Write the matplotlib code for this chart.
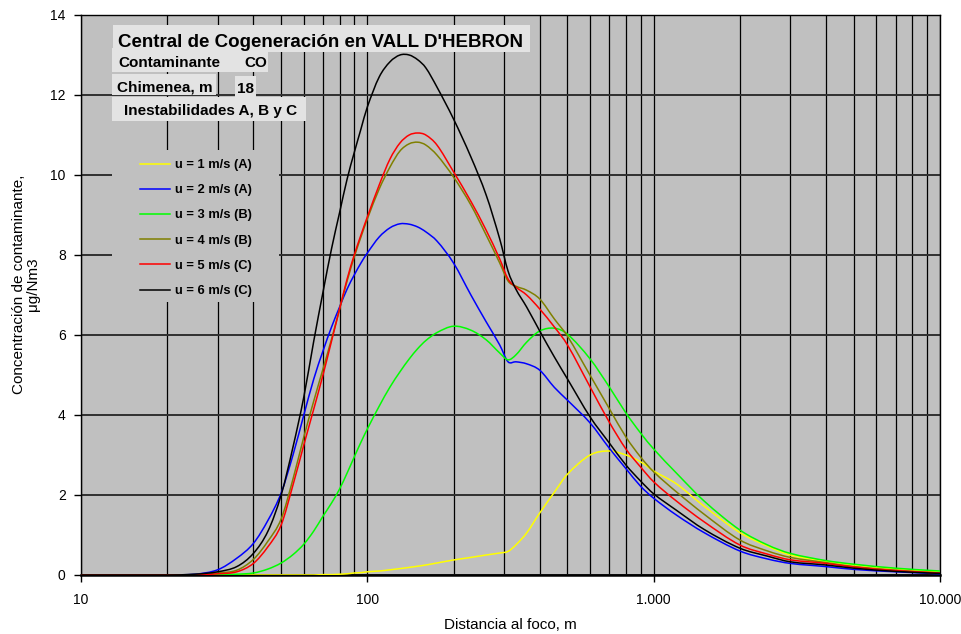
import math
import matplotlib
matplotlib.use("Agg")
import matplotlib.pyplot as plt
from matplotlib.patches import Rectangle, PathPatch
from matplotlib.path import Path
from matplotlib.lines import Line2D
from matplotlib.ticker import FixedLocator, FixedFormatter, LogLocator, NullFormatter

# ---------------- data ----------------
dist = [10, 15, 20, 25, 30, 35, 40, 45, 50, 55, 60, 65, 70, 75, 80, 85, 90, 95, 100,
        110, 120, 130, 140, 150, 160, 175, 200, 230, 260, 290, 310, 330, 360, 400,
        450, 500, 600, 700, 800, 900, 1000, 1200, 1500, 2000, 2500, 3000, 4000,
        5000, 7000, 10000]

u1_A = [0, 0, 0, 0, 0, 0, 0, 0, 0, 0, 0, 0, 0.01, 0.01, 0.02, 0.03, 0.05, 0.06, 0.08,
        0.10, 0.13, 0.16, 0.19, 0.22, 0.25, 0.30, 0.375, 0.44, 0.50, 0.55, 0.59, 0.75,
        1.05, 1.55, 2.07, 2.52, 3.0, 3.1, 3.0, 2.83, 2.6, 2.28, 1.72, 1.06, 0.72, 0.50,
        0.34, 0.25, 0.15, 0.07]

u2_A = [0, 0, 0, 0.02, 0.13, 0.42, 0.79, 1.37, 2.05, 3.0, 4.0, 4.9, 5.6, 6.2, 6.7, 7.15,
        7.5, 7.8, 8.05, 8.45, 8.68, 8.78, 8.77, 8.7, 8.58, 8.35, 7.8, 7.0, 6.33, 5.75,
        5.33, 5.33, 5.28, 5.12, 4.69, 4.37, 3.8, 3.17, 2.66, 2.22, 1.92, 1.5, 1.06,
        0.6, 0.4, 0.29, 0.21, 0.14, 0.08, 0.03]

u3_B = [0, 0, 0, 0, 0.01, 0.02, 0.05, 0.15, 0.3, 0.51, 0.77, 1.1, 1.47, 1.8, 2.15,
        2.55, 2.95, 3.32, 3.65, 4.22, 4.7, 5.08, 5.4, 5.66, 5.86, 6.06, 6.22, 6.12, 5.88,
        5.55, 5.38, 5.5, 5.82, 6.1, 6.17, 6.02, 5.4, 4.7, 4.05, 3.55, 3.15, 2.55, 1.85,
        1.125, 0.75, 0.54, 0.36, 0.27, 0.17, 0.10]

u4_B = [0, 0, 0, 0.01, 0.05, 0.12, 0.39, 0.85, 1.4, 2.4, 3.45, 4.35, 5.15, 5.9, 6.65,
        7.35, 7.95, 8.45, 8.9, 9.65, 10.2, 10.6, 10.78, 10.82, 10.75, 10.5, 9.95, 9.25,
        8.5, 7.8, 7.35, 7.22, 7.12, 6.9, 6.4, 5.97, 4.99, 4.16, 3.45, 2.95, 2.58, 2.08,
        1.52, 0.875, 0.6, 0.44, 0.31, 0.21, 0.12, 0.05]

u5_C = [0, 0, 0, 0, 0.03, 0.08, 0.29, 0.71, 1.25, 2.25, 3.25, 4.15, 5.0, 5.85, 6.65,
        7.4, 8.0, 8.5, 8.95, 9.75, 10.4, 10.8, 11.0, 11.05, 11.0, 10.75, 10.08, 9.34,
        8.62, 7.9, 7.4, 7.2, 7.0, 6.65, 6.2, 5.75, 4.7, 3.82, 3.15, 2.7, 2.33, 1.85,
        1.33, 0.75, 0.52, 0.38, 0.29, 0.2, 0.11, 0.05]

u6_C = [0, 0, 0, 0.02, 0.08, 0.21, 0.54, 1.1, 2.0, 3.2, 4.45, 5.85, 7.07, 8.16, 9.06,
        9.9, 10.56, 11.15, 11.7, 12.45, 12.83, 13.0, 13.0, 12.88, 12.68, 12.2, 11.4,
        10.45, 9.5, 8.4, 7.6, 7.15, 6.7, 6.1, 5.45, 4.9, 3.95, 3.3, 2.75, 2.35, 2.03,
        1.62, 1.14, 0.67, 0.47, 0.33, 0.25, 0.17, 0.09, 0.04]

series_labels = ["u = 1 m/s (A)", "u = 2 m/s (A)", "u = 3 m/s (B)",
                 "u = 4 m/s (B)", "u = 5 m/s (C)", "u = 6 m/s (C)"]
series_values = [u1_A, u2_A, u3_B, u4_B, u5_C, u6_C]
series_colors = ["#FFFF00", "#0000FF", "#00FF00", "#808000", "#FF0000", "#000000"]

x_ticks = [10, 100, 1000, 10000]
x_ticklabels = ["10", "100", "1.000", "10.000"]
y_ticks = [0, 2, 4, 6, 8, 10, 12, 14]

title_text = "Central de Cogeneración en VALL D'HEBRON"
info_rows = [("Contaminante", "CO"), ("Chimenea, m", "18")]
info_last = "Inestabilidades A, B y C"

# ---------------- figure ----------------
W, H = 962, 634
FONT = "Liberation Sans"
plt.rcParams["font.family"] = [FONT, "DejaVu Sans"]

fig = plt.figure(figsize=(W / 100, H / 100), dpi=100)
fig.patch.set_facecolor("white")

def fx(px):
    return px / W

def fy(py):
    return 1 - py / H

ax = fig.add_axes([fx(81), fy(575), (940 - 81) / W, (575 - 15) / H])
ax.set_facecolor("#C0C0C0")
ax.set_xscale("log")
ax.set_xlim(10, 10000)
ax.set_ylim(0, 14)

ax.xaxis.set_major_locator(FixedLocator(x_ticks))
ax.xaxis.set_major_formatter(FixedFormatter(x_ticklabels))
ax.xaxis.set_minor_locator(LogLocator(base=10, subs=range(2, 10)))
ax.xaxis.set_minor_formatter(NullFormatter())
ax.yaxis.set_major_locator(FixedLocator(y_ticks))

ax.grid(which="both", axis="x", color="black", linewidth=0.9)
ax.grid(which="major", axis="y", color="#303030", linewidth=1.4)
ax.tick_params(which="minor", length=0)
ax.tick_params(which="major", direction="out", length=5, width=1, colors="black",
               labelsize=10)
ax.tick_params(axis="x", which="major", pad=8)
ax.tick_params(axis="y", which="major", pad=6)
for lab in ax.get_xticklabels() + ax.get_yticklabels():
    lab.set_fontfamily(FONT)
for s in ax.spines.values():
    s.set_color("black")
    s.set_linewidth(1.0)
ax.spines["bottom"].set_linewidth(1.8)


def smooth_path(xs, ys):
    """Smoothed line through the data points (like a spreadsheet 'smoothed line'),
    built from cubic Bezier segments in log-x space and rendered by matplotlib."""
    us = [math.log10(v) for v in xs]
    n = len(us)
    slopes = []
    for i in range(n):
        a = max(i - 1, 0)
        b = min(i + 1, n - 1)
        slopes.append((ys[b] - ys[a]) / (us[b] - us[a]))
    verts = [(xs[0], ys[0])]
    codes = [Path.MOVETO]
    for i in range(n - 1):
        h = us[i + 1] - us[i]
        c1 = (10 ** (us[i] + h / 3), max(ys[i] + slopes[i] * h / 3, 0))
        c2 = (10 ** (us[i + 1] - h / 3), max(ys[i + 1] - slopes[i + 1] * h / 3, 0))
        verts += [c1, c2, (xs[i + 1], ys[i + 1])]
        codes += [Path.CURVE4] * 3
    return Path(verts, codes)


handles = []
for vals, col, lab in zip(series_values, series_colors, series_labels):
    ax.add_patch(PathPatch(smooth_path(dist, vals), facecolor="none", edgecolor=col,
                           linewidth=1.1, zorder=3))
    handles.append(Line2D([], [], color=col, linewidth=1.1))

# legend area (masks the grid like the original)
ax.add_patch(Rectangle((fx(112), fy(302)), fx(279) - fx(112), fy(150) - fy(302),
                       transform=fig.transFigure, facecolor="#C0C0C0",
                       edgecolor="none", zorder=2.6, clip_on=False))
leg = ax.legend(handles=handles, labels=series_labels, loc="upper left",
                bbox_to_anchor=(fx(140), fy(159)), bbox_transform=fig.transFigure,
                frameon=False, borderpad=0, borderaxespad=0,
                handlelength=2.35, handletextpad=0.35, labelspacing=1.02,
                prop=dict(family=FONT, weight="bold", size=9.3))
leg.set_zorder(5)

ax.set_xlabel("Distancia al foco, m", fontsize=11, fontfamily=FONT, labelpad=8)
fig.text(fx(26), fy(284), "Concentración de contaminante,\nμg/Nm3", rotation=90,
         ha="center", va="center", multialignment="center", fontsize=11,
         fontfamily=FONT, linespacing=0.95)

# info boxes
box_col = "#E3E3E3"
def box(x0, y0, x1, y1, z):
    fig.add_artist(Rectangle((fx(x0), fy(y1)), fx(x1) - fx(x0), fy(y0) - fy(y1),
                             transform=fig.transFigure, facecolor=box_col,
                             edgecolor="none", zorder=z))

box(113, 25, 530, 52, 6)
fig.text(fx(118), fy(47), title_text, fontsize=13.5, fontweight="bold",
         fontfamily=FONT, ha="left", va="baseline", zorder=7)
box(112, 48, 235, 72, 8)
box(235, 52, 268, 72, 8)
box(112, 74, 216, 95, 8)
box(235, 76, 256, 97, 8)
box(112, 97, 306, 121, 8)
fig.text(fx(118), fy(67), info_rows[0][0], fontsize=11, fontweight="bold",
         fontfamily=FONT, va="baseline", zorder=9)
fig.text(fx(244), fy(67), info_rows[0][1], fontsize=11, fontweight="bold",
         fontfamily=FONT, va="baseline", zorder=9)
fig.text(fx(117), fy(91), info_rows[1][0], fontsize=11, fontweight="bold",
         fontfamily=FONT, va="baseline", zorder=9)
fig.text(fx(237), fy(93), info_rows[1][1], fontsize=11, fontweight="bold",
         fontfamily=FONT, va="baseline", zorder=9)
fig.text(fx(124), fy(115), info_last, fontsize=11, fontweight="bold",
         fontfamily=FONT, va="baseline", zorder=9)

fig.savefig("out.png", dpi=100)
